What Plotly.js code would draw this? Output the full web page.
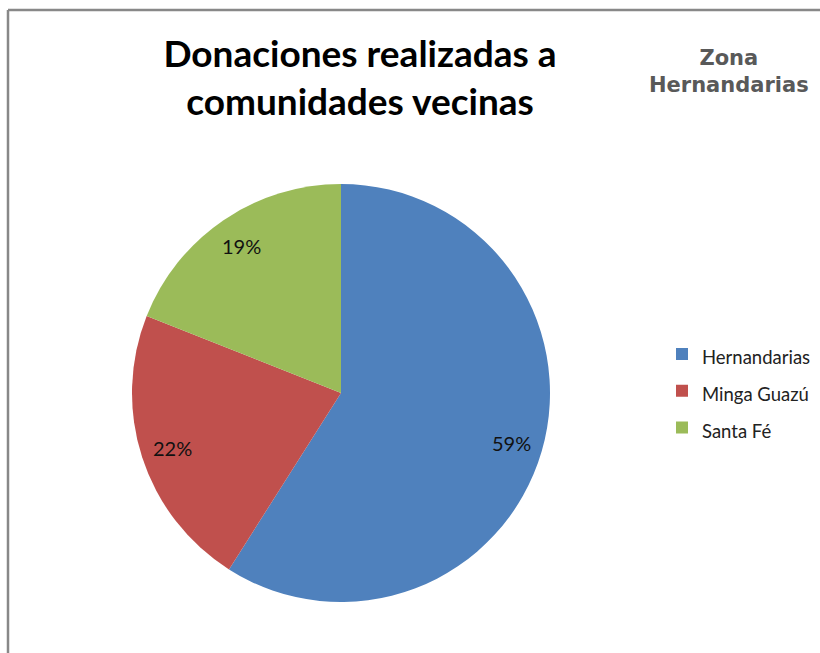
<!DOCTYPE html>
<html>
<head>
<meta charset="utf-8">
<script src="https://cdn.plot.ly/plotly-3.0.1.min.js"></script>
<style>html,body{margin:0;padding:0;background:#fff;}#chart{width:820px;height:653px;}</style>
</head>
<body>
<div id="chart"></div>
<script>
const categories = ["Hernandarias", "Minga Guazú", "Santa Fé"];
const values = [59, 22, 19];
const sliceColors = ["#4F81BD", "#C0504D", "#9BBB59"];
const chartTitle = "Donaciones realizadas a<br>comunidades vecinas";
const subTitle = "Zona<br>Hernandarias";

const W = 820, H = 653;
const cx = 341, cy = 393, r = 209;

const total = values.reduce((a, b) => a + b, 0);

const trace = {
  type: "pie",
  labels: categories.map(c => '<span style="font-size:18.5px">' + c + '</span>'),
  values: values,
  sort: false,
  direction: "clockwise",
  rotation: 0,
  marker: {colors: sliceColors, line: {width: 0}},
  textinfo: "none",
  domain: {x: [(cx - r) / W, (cx + r) / W], y: [(H - cy - r) / H, (H - cy + r) / H]},
  hoverinfo: "percent"
};

// percentage labels placed at each slice's mid-angle, derived from the values
const labelAnns = [];
let cum = 0;
values.forEach((v, i) => {
  const mid = (cum + v / 2) / total;
  cum += v;
  const th = 2 * Math.PI * mid;
  const px = cx + 0.85 * r * Math.sin(th);
  const py = cy - 0.85 * r * Math.cos(th);
  labelAnns.push({
    text: Math.round(100 * v / total) + "%",
    xref: "paper", yref: "paper",
    x: px / W, y: 1 - py / H, xanchor: "center", yanchor: "middle",
    showarrow: false,
    font: {family: "Lato, sans-serif", size: 20, color: "#111"}
  });
});

const layout = {
  width: W, height: H,
  margin: {l: 0, r: 0, t: 0, b: 0},
  paper_bgcolor: "#fff",
  showlegend: true,
  title: {
    text: chartTitle,
    font: {family: "Lato, sans-serif", size: 37, color: "#000", weight: "bold"},
    x: 360 / W, xanchor: "center",
    y: 1 - 67 / H, yanchor: "top",
    xref: "paper", yref: "paper"
  },
  legend: {
    x: 662 / W, xanchor: "left",
    y: 1 - 391 / H, yanchor: "middle",
    font: {family: "Lato, sans-serif", size: 26, color: "#222"},
    bgcolor: "rgba(0,0,0,0)"
  },
  annotations: [{
    text: subTitle,
    xref: "paper", yref: "paper",
    x: 729 / W, y: 1 - 71.5 / H, xanchor: "center", yanchor: "middle",
    showarrow: false,
    font: {family: "DejaVu Sans, sans-serif", size: 21, color: "#595959", weight: "bold"}
  }].concat(labelAnns),
  shapes: [
    {type: "line", xref: "paper", yref: "paper", x0: 8 / W, x1: 8 / W, y0: 0, y1: 1 - 10 / H, line: {color: "#888", width: 2.5}},
    {type: "line", xref: "paper", yref: "paper", x0: 8 / W, x1: 1, y0: 1 - 10 / H, y1: 1 - 10 / H, line: {color: "#888", width: 2.5}}
  ]
};

Plotly.newPlot("chart", [trace], layout, {displayModeBar: false, staticPlot: true});
</script>
</body>
</html>
